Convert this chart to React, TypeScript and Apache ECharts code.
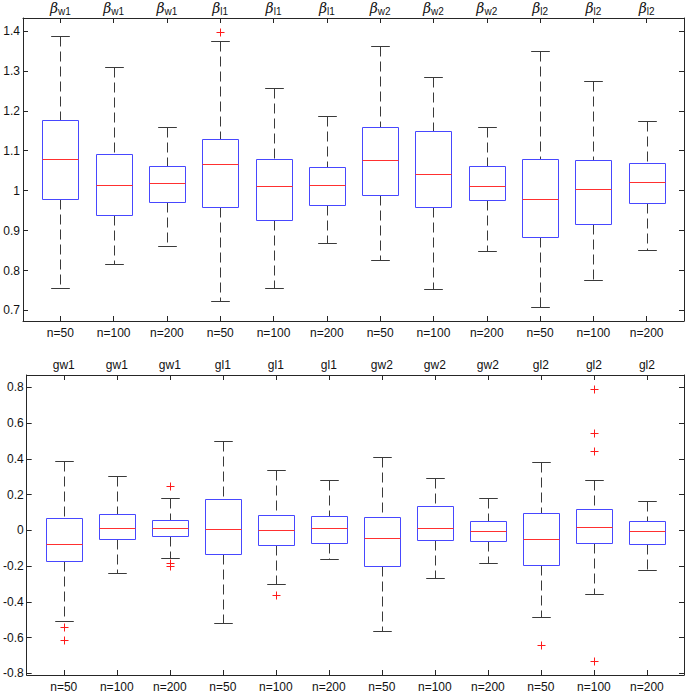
import React, { useEffect, useRef } from "react";
import * as echarts from "echarts";

// ---------- data ----------
const positions = [1, 2, 3, 4, 5, 6, 7, 8, 9, 10, 11, 12];
const sampleSizeLabels = ["n=50", "n=100", "n=200", "n=50", "n=100", "n=200", "n=50", "n=100", "n=200", "n=50", "n=100", "n=200"];
const betaSubscripts = ["w1", "w1", "w1", "l1", "l1", "l1", "w2", "w2", "w2", "l2", "l2", "l2"];
const gammaLabels = ["gw1", "gw1", "gw1", "gl1", "gl1", "gl1", "gw2", "gw2", "gw2", "gl2", "gl2", "gl2"];

// top panel (beta estimates)
const topLow = [0.755, 0.817, 0.862, 0.723, 0.756, 0.868, 0.827, 0.753, 0.849, 0.709, 0.776, 0.852];
const topQ1 = [0.978, 0.940, 0.971, 0.958, 0.926, 0.963, 0.988, 0.958, 0.976, 0.884, 0.917, 0.968];
const topMedian = [1.079, 1.013, 1.018, 1.066, 1.012, 1.014, 1.077, 1.042, 1.011, 0.978, 1.003, 1.021];
const topQ3 = [1.176, 1.091, 1.061, 1.129, 1.079, 1.059, 1.160, 1.150, 1.063, 1.079, 1.076, 1.069];
const topHigh = [1.388, 1.310, 1.160, 1.374, 1.256, 1.188, 1.362, 1.285, 1.159, 1.350, 1.274, 1.175];
const topOutlierBox = [4];
const topOutlierValue = [1.397];
const topTicks = [0.7, 0.8, 0.9, 1.0, 1.1, 1.2, 1.3, 1.4];

// bottom panel (gamma estimates)
const bottomLow = [-0.508, -0.239, -0.154, -0.517, -0.298, -0.159, -0.562, -0.266, -0.180, -0.484, -0.355, -0.224];
const bottomQ1 = [-0.169, -0.051, -0.032, -0.134, -0.084, -0.073, -0.202, -0.056, -0.062, -0.196, -0.069, -0.076];
const bottomMedian = [-0.076, 0.016, 0.014, 0.005, 0.003, 0.016, -0.045, 0.014, -0.003, -0.047, 0.020, -0.003];
const bottomQ3 = [0.069, 0.092, 0.060, 0.176, 0.086, 0.080, 0.075, 0.136, 0.055, 0.097, 0.121, 0.053];
const bottomHigh = [0.387, 0.306, 0.180, 0.501, 0.339, 0.283, 0.409, 0.291, 0.180, 0.385, 0.280, 0.164];
const bottomOutlierBox = [1, 1, 3, 3, 3, 5, 10, 11, 11, 11, 11];
const bottomOutlierValue = [-0.538, -0.615, 0.248, -0.180, -0.200, -0.361, -0.643, 0.793, 0.545, 0.442, -0.733];
const bottomTicks = [-0.8, -0.6, -0.4, -0.2, 0, 0.2, 0.4, 0.6, 0.8];

// ---------- style ----------
const FONT = "Liberation Sans, Arial, Helvetica, sans-serif";
const AXIS_COLOR = "#262626";
const BOX_COLOR = "#4747ff";
const MEDIAN_COLOR = "#ff3030";
const WHISKER_COLOR = "#3a3a3a";
const OUTLIER_COLOR = "#ff1a1a";

function fmtNum(v: number) {
  return String(parseFloat(v.toFixed(2)));
}

function renderBox(params: any, api: any) {
  const x = api.value(0);
  const low = api.value(1);
  const q1 = api.value(2);
  const med = api.value(3);
  const q3 = api.value(4);
  const high = api.value(5);
  const bw = api.size([1, 0])[0] * 0.7;
  const c = api.coord([x, med]);
  const cx = Math.round(c[0]) + 0.5;
  const yLow = Math.round(api.coord([x, low])[1]) + 0.5;
  const yQ1 = Math.round(api.coord([x, q1])[1]) + 0.5;
  const yMed = Math.round(c[1]) + 0.5;
  const yQ3 = Math.round(api.coord([x, q3])[1]) + 0.5;
  const yHigh = Math.round(api.coord([x, high])[1]) + 0.5;
  const left = Math.round(cx - bw / 2) + 0.5;
  const right = Math.round(cx + bw / 2) - 0.5;
  const capHalf = bw / 4;
  const wStyle = { stroke: WHISKER_COLOR, lineWidth: 1, lineDash: [10, 5] };
  const capStyle = { stroke: WHISKER_COLOR, lineWidth: 1 };
  return {
    type: "group",
    children: [
      { type: "line", shape: { x1: cx, y1: yHigh, x2: cx, y2: yQ3 }, style: wStyle },
      { type: "line", shape: { x1: cx, y1: yQ1, x2: cx, y2: yLow }, style: wStyle },
      { type: "line", shape: { x1: cx - capHalf, y1: yHigh, x2: cx + capHalf, y2: yHigh }, style: capStyle },
      { type: "line", shape: { x1: cx - capHalf, y1: yLow, x2: cx + capHalf, y2: yLow }, style: capStyle },
      {
        type: "rect",
        shape: { x: left, y: yQ3, width: right - left, height: yQ1 - yQ3 },
        style: { fill: "#fff", stroke: BOX_COLOR, lineWidth: 1 },
      },
      { type: "line", shape: { x1: left, y1: yMed, x2: right, y2: yMed }, style: { stroke: MEDIAN_COLOR, lineWidth: 1 } },
    ],
  };
}

function renderOutlier(params: any, api: any) {
  const p = api.coord([api.value(0), api.value(1)]);
  const cx = Math.round(p[0]) + 0.5;
  const cy = Math.round(p[1]) + 0.5;
  const h = 4;
  const st = { stroke: OUTLIER_COLOR, lineWidth: 1 };
  return {
    type: "group",
    children: [
      { type: "line", shape: { x1: cx - h, y1: cy, x2: cx + h, y2: cy }, style: st },
      { type: "line", shape: { x1: cx, y1: cy - h, x2: cx, y2: cy + h }, style: st },
    ],
  };
}

function xAxes(gridIndex: number, topFormatter: (v: number) => string, topMargin: number, rich?: any) {
  const base = {
    gridIndex,
    type: "value",
    min: 0.3,
    max: 12.7,
    splitLine: { show: false },
    axisLine: { show: true, onZero: false, lineStyle: { color: AXIS_COLOR, width: 1 } },
    axisTick: { show: true, inside: true, length: 5, customValues: positions, lineStyle: { color: AXIS_COLOR } },
  };
  return [
    {
      ...base,
      position: "bottom",
      axisLabel: {
        show: true,
        customValues: positions,
        margin: 6,
        fontSize: 12,
        fontFamily: FONT,
        color: "#111",
        formatter: (v: number) => sampleSizeLabels[Math.round(v) - 1] ?? "",
      },
    },
    {
      ...base,
      position: "top",
      axisLabel: {
        show: true,
        customValues: positions,
        margin: topMargin,
        fontSize: 12,
        fontFamily: FONT,
        color: "#111",
        formatter: topFormatter,
        rich,
      },
    },
  ];
}

function yAxes(gridIndex: number, min: number, max: number, ticks: number[]) {
  const base = {
    gridIndex,
    type: "value",
    min,
    max,
    splitLine: { show: false },
    axisLine: { show: true, onZero: false, lineStyle: { color: AXIS_COLOR, width: 1 } },
    axisTick: { show: true, inside: true, length: 5, customValues: ticks, lineStyle: { color: AXIS_COLOR } },
  };
  return [
    {
      ...base,
      position: "left",
      axisLabel: {
        show: true,
        customValues: ticks,
        margin: 3,
        fontSize: 12,
        fontFamily: FONT,
        color: "#111",
        formatter: (v: number) => fmtNum(v),
      },
    },
    { ...base, position: "right", axisLabel: { show: false } },
  ];
}

function boxData(low: number[], q1: number[], med: number[], q3: number[], high: number[]) {
  return positions.map((p, i) => [p, low[i], q1[i], med[i], q3[i], high[i]]);
}

function outlierData(boxes: number[], values: number[]) {
  return boxes.map((b, i) => [b, values[i]]);
}

export default function App() {
  const ref = useRef<HTMLDivElement>(null);
  useEffect(() => {
    if (!ref.current) return;
    const chart = echarts.init(ref.current, undefined, { renderer: "svg" });
    const betaRich = {
      b: { fontFamily: "DejaVu Serif, serif", fontStyle: "italic", fontSize: 14, color: "#111", lineHeight: 16 },
      s: { fontFamily: FONT, fontSize: 10, color: "#111", lineHeight: 10, verticalAlign: "bottom" },
    };
    const option: any = {
      animation: false,
      backgroundColor: "#fff",
      grid: [
        { left: 23, right: 1, top: 18, height: 303, containLabel: false },
        { left: 23, right: 1, top: 375, height: 303, containLabel: false },
      ],
      xAxis: [
        ...xAxes(0, (v: number) => `{b|β}{s|${betaSubscripts[Math.round(v) - 1] ?? ""}}`, 2, betaRich),
        ...xAxes(1, (v: number) => gammaLabels[Math.round(v) - 1] ?? "", 4),
      ],
      yAxis: [...yAxes(0, 0.6735, 1.4325, topTicks), ...yAxes(1, -0.809, 0.869, bottomTicks)],
      series: [
        {
          type: "custom",
          xAxisIndex: 0,
          yAxisIndex: 0,
          renderItem: renderBox,
          encode: { x: 0, y: [1, 2, 3, 4, 5] },
          data: boxData(topLow, topQ1, topMedian, topQ3, topHigh),
        },
        {
          type: "custom",
          xAxisIndex: 0,
          yAxisIndex: 0,
          renderItem: renderOutlier,
          encode: { x: 0, y: 1 },
          data: outlierData(topOutlierBox, topOutlierValue),
        },
        {
          type: "custom",
          xAxisIndex: 2,
          yAxisIndex: 2,
          renderItem: renderBox,
          encode: { x: 0, y: [1, 2, 3, 4, 5] },
          data: boxData(bottomLow, bottomQ1, bottomMedian, bottomQ3, bottomHigh),
        },
        {
          type: "custom",
          xAxisIndex: 2,
          yAxisIndex: 2,
          renderItem: renderOutlier,
          encode: { x: 0, y: 1 },
          data: outlierData(bottomOutlierBox, bottomOutlierValue),
        },
      ],
    };
    chart.setOption(option);
    return () => chart.dispose();
  }, []);
  return (
    <div
      ref={ref}
      style={{ position: "absolute", left: 0, top: 0, width: 685, height: 693, background: "#fff" }}
    />
  );
}
